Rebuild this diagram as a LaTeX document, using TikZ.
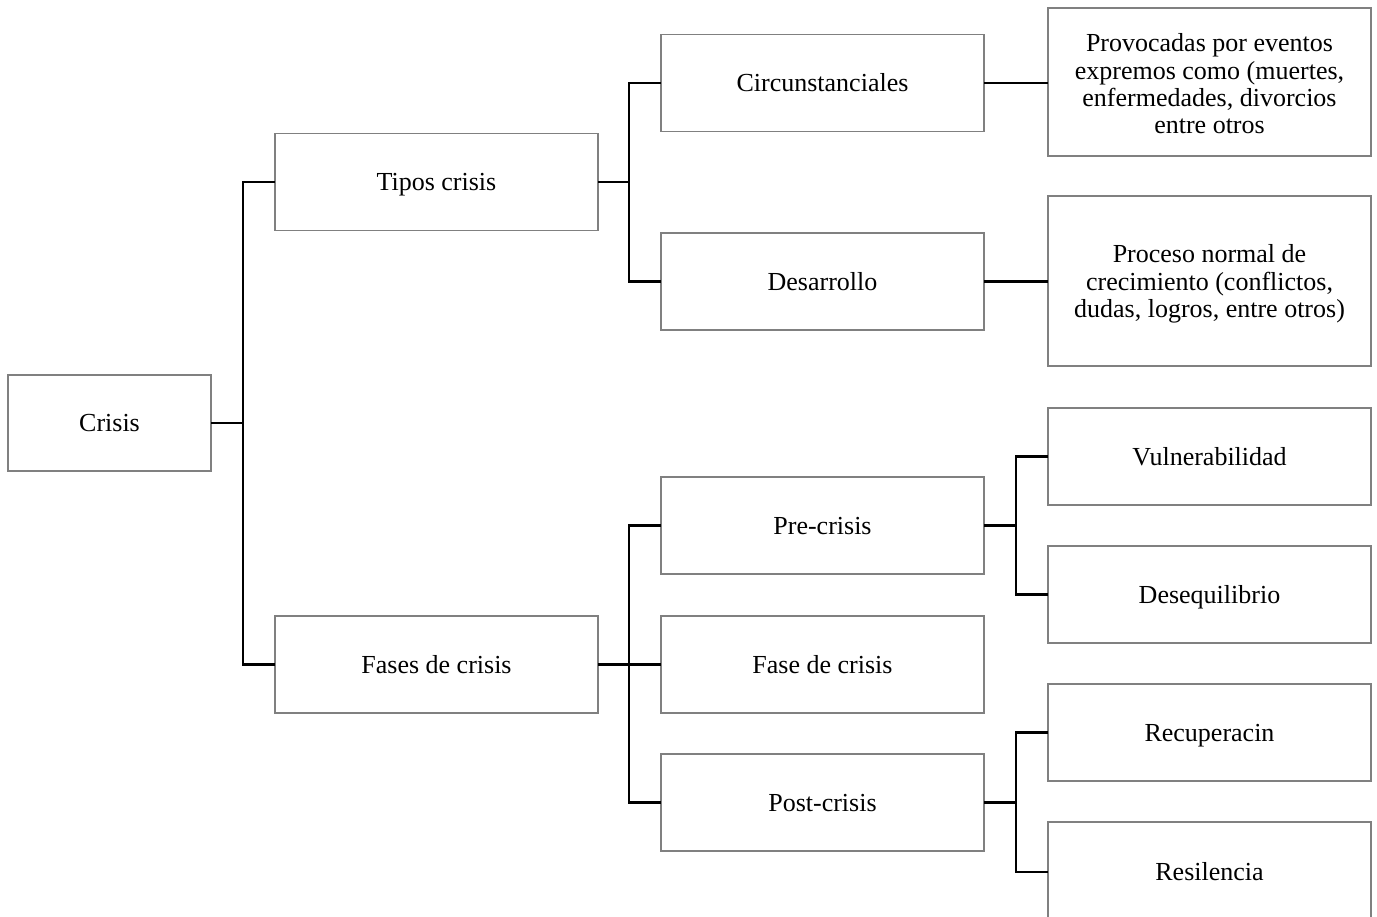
\documentclass[tikz,border=0pt]{standalone}
\usepackage{fontspec}
\setmainfont{Liberation Serif}
\begin{document}
\begin{tikzpicture}[x=1pt,y=-1pt,
  box/.style={draw=black!50, line width=1.1pt, fill=white, inner sep=0pt, outer sep=0pt,
    minimum width=323pt, minimum height=97pt, align=center,
    font=\fontsize{26}{27.4}\selectfont},
  onebox/.style={box, text height=17.8pt, text depth=0pt},
  link/.style={draw=black, line width=2.8pt}]
\useasboundingbox (0,0) rectangle (1377,917);
% level 0
\node[onebox, minimum width=203pt, minimum height=96pt] (crisis) at (109.5,423) {Crisis};
% level 1
\node[onebox] (tipos) at (436.5,182) {Tipos crisis};
\node[onebox] (fases) at (436.5,664.5) {Fases de crisis};
% level 2
\node[onebox] (circ) at (822.5,83) {Circunstanciales};
\node[onebox] (desa) at (822.5,281.5) {Desarrollo};
\node[onebox] (pre) at (822.5,525.5) {Pre-crisis};
\node[onebox] (fase) at (822.5,664.5) {Fase de crisis};
\node[onebox] (post) at (822.5,802.5) {Post-crisis};
% level 3
\node[box, minimum height=148pt] (prov) at (1209.5,82) {\rule{0pt}{22pt}Provocadas por eventos\\expremos como (muertes,\\enfermedades, divorcios\\entre otros};
\node[box, minimum height=170pt] (proc) at (1209.5,281) {\rule{0pt}{24pt}Proceso normal de\\crecimiento (conflictos,\\dudas, logros, entre otros)};
\node[onebox] (vuln) at (1209.5,456.5) {Vulnerabilidad};
\node[onebox] (deseq) at (1209.5,594.5) {Desequilibrio};
\node[onebox] (recup) at (1209.5,732.5) {Recuperacin};
\node[onebox, minimum height=100pt] (resil) at (1209.5,872) {Resilencia};
% bus points
\coordinate (b1) at (243,423);
\coordinate (b2) at (629,182);
\coordinate (b3) at (629,664.5);
\coordinate (b4) at (1016,525.5);
\coordinate (b5) at (1016,802.5);
% connectors
\draw[link] (crisis.east) -- (b1);
\draw[link] (b1) |- (tipos.west);
\draw[link] (b1) |- (fases.west);
\draw[link] (tipos.east) -- (b2);
\draw[link] (b2) |- (circ.west);
\draw[link] (b2) |- (desa.west);
\draw[link] (circ.east) -- (circ.east -| prov.west);
\draw[link] (desa.east) -- (desa.east -| proc.west);
\draw[link] (fases.east) -- (b3);
\draw[link] (b3) |- (pre.west);
\draw[link] (b3) -- (fase.west);
\draw[link] (b3) |- (post.west);
\draw[link] (pre.east) -- (b4);
\draw[link] (b4) |- (vuln.west);
\draw[link] (b4) |- (deseq.west);
\draw[link] (post.east) -- (b5);
\draw[link] (b5) |- (recup.west);
\draw[link] (b5) |- (resil.west);
\end{tikzpicture}
\end{document}
